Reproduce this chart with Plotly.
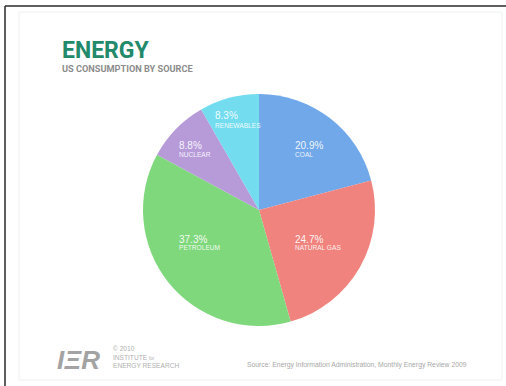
import plotly.graph_objects as go

# US energy consumption by source (percent of total)
sources = ["COAL", "NATURAL GAS", "PETROLEUM", "NUCLEAR", "RENEWABLES"]
shares = [20.9, 24.7, 37.3, 8.8, 8.3]
slice_colors = ["#70a8e9", "#f0837e", "#80d87d", "#b79bd9", "#73dcef"]

# where each slice's label block sits (paper px, left edge / percent line centre)
label_px = [(293, 145), (293, 239), (177, 239), (177, 145), (213, 116)]

W, H = 506, 386
HEAD_FONT = "Roboto, Liberation Sans, Arial"


def px(x, y):
    return x / W, 1 - y / H


fig = go.Figure()

fig.add_trace(go.Pie(
    labels=sources,
    values=shares,
    sort=False,
    direction="clockwise",
    rotation=0,
    marker=dict(colors=slice_colors, line=dict(width=0)),
    textinfo="none",
    hoverinfo="label+percent",
    showlegend=False,
    domain=dict(x=[143 / W, 375 / W], y=[1 - 326 / H, 1 - 94 / H]),
))

annotations = []
for name, val, (lx, ly) in zip(sources, shares, label_px):
    ax, ay = px(lx, ly)
    annotations.append(dict(
        x=ax, y=ay, xref="paper", yref="paper", xanchor="left", yanchor="middle",
        text=f"{val:.1f}%", showarrow=False,
        font=dict(family="Liberation Sans, Arial", size=10, color="rgba(255,255,255,0.92)"),
    ))
    bx, by = px(lx, ly + 9)
    annotations.append(dict(
        x=bx, y=by, xref="paper", yref="paper", xanchor="left", yanchor="middle",
        text=name, showarrow=False,
        font=dict(family="Liberation Sans, Arial", size=6.6, color="rgba(255,255,255,0.9)"),
    ))

# Headline and subtitle
tx, ty = px(60, 50)
annotations.append(dict(
    x=tx, y=ty, xref="paper", yref="paper", xanchor="left", yanchor="middle",
    text="ENERGY", showarrow=False,
    font=dict(family=HEAD_FONT, size=23, color="#22896b", weight=700),
))
sx, sy = px(60, 69)
annotations.append(dict(
    x=sx, y=sy, xref="paper", yref="paper", xanchor="left", yanchor="middle",
    text="US CONSUMPTION BY SOURCE", showarrow=False,
    font=dict(family=HEAD_FONT, size=9.2, color="#8c8c8c", weight=700),
))

# Institute mark, bottom left
lx, ly = px(55, 360)
annotations.append(dict(
    x=lx, y=ly, xref="paper", yref="paper", xanchor="left", yanchor="middle",
    text="<b><i>IΞR</i></b>", showarrow=False,
    font=dict(family="Liberation Sans, Arial", size=26, color="#a3a3a3"),
))
cx, cy = px(111, 357)
annotations.append(dict(
    x=cx, y=cy, xref="paper", yref="paper", xanchor="left", yanchor="middle",
    text="© 2010<br>INSTITUTE <span style='font-size:4.5px'>for</span><br>ENERGY RESEARCH",
    showarrow=False, align="left",
    font=dict(family="Liberation Sans, Arial", size=6.6, color="#b0b0b0"),
))

# Source line, bottom right
rx, ry = px(245, 365)
annotations.append(dict(
    x=rx, y=ry, xref="paper", yref="paper", xanchor="left", yanchor="middle",
    text="Source: Energy Information Administration, Monthly Energy Review 2009",
    showarrow=False,
    font=dict(family="Liberation Sans, Arial", size=6.8, color="#a8a8a8"),
))

shapes = [
    # faint slide panel
    dict(type="rect", xref="paper", yref="paper",
         x0=19 / W, x1=502 / W, y0=1 - 380 / H, y1=1 - 12 / H,
         line=dict(color="#eef1f1", width=1), fillcolor="rgba(0,0,0,0)", layer="below"),
    # page frame lines
    dict(type="line", xref="paper", yref="paper", x0=5 / W, x1=1, y0=1 - 6 / H, y1=1 - 6 / H,
         line=dict(color="#2a2a2a", width=1.5)),
    dict(type="line", xref="paper", yref="paper", x0=5 / W, x1=5 / W, y0=0, y1=1 - 6 / H,
         line=dict(color="#2a2a2a", width=1.5)),
]

fig.update_layout(
    width=W, height=H,
    margin=dict(l=0, r=0, t=0, b=0),
    paper_bgcolor="#ffffff",
    plot_bgcolor="#ffffff",
    annotations=annotations,
    shapes=shapes,
)

fig.write_html("out.html")
